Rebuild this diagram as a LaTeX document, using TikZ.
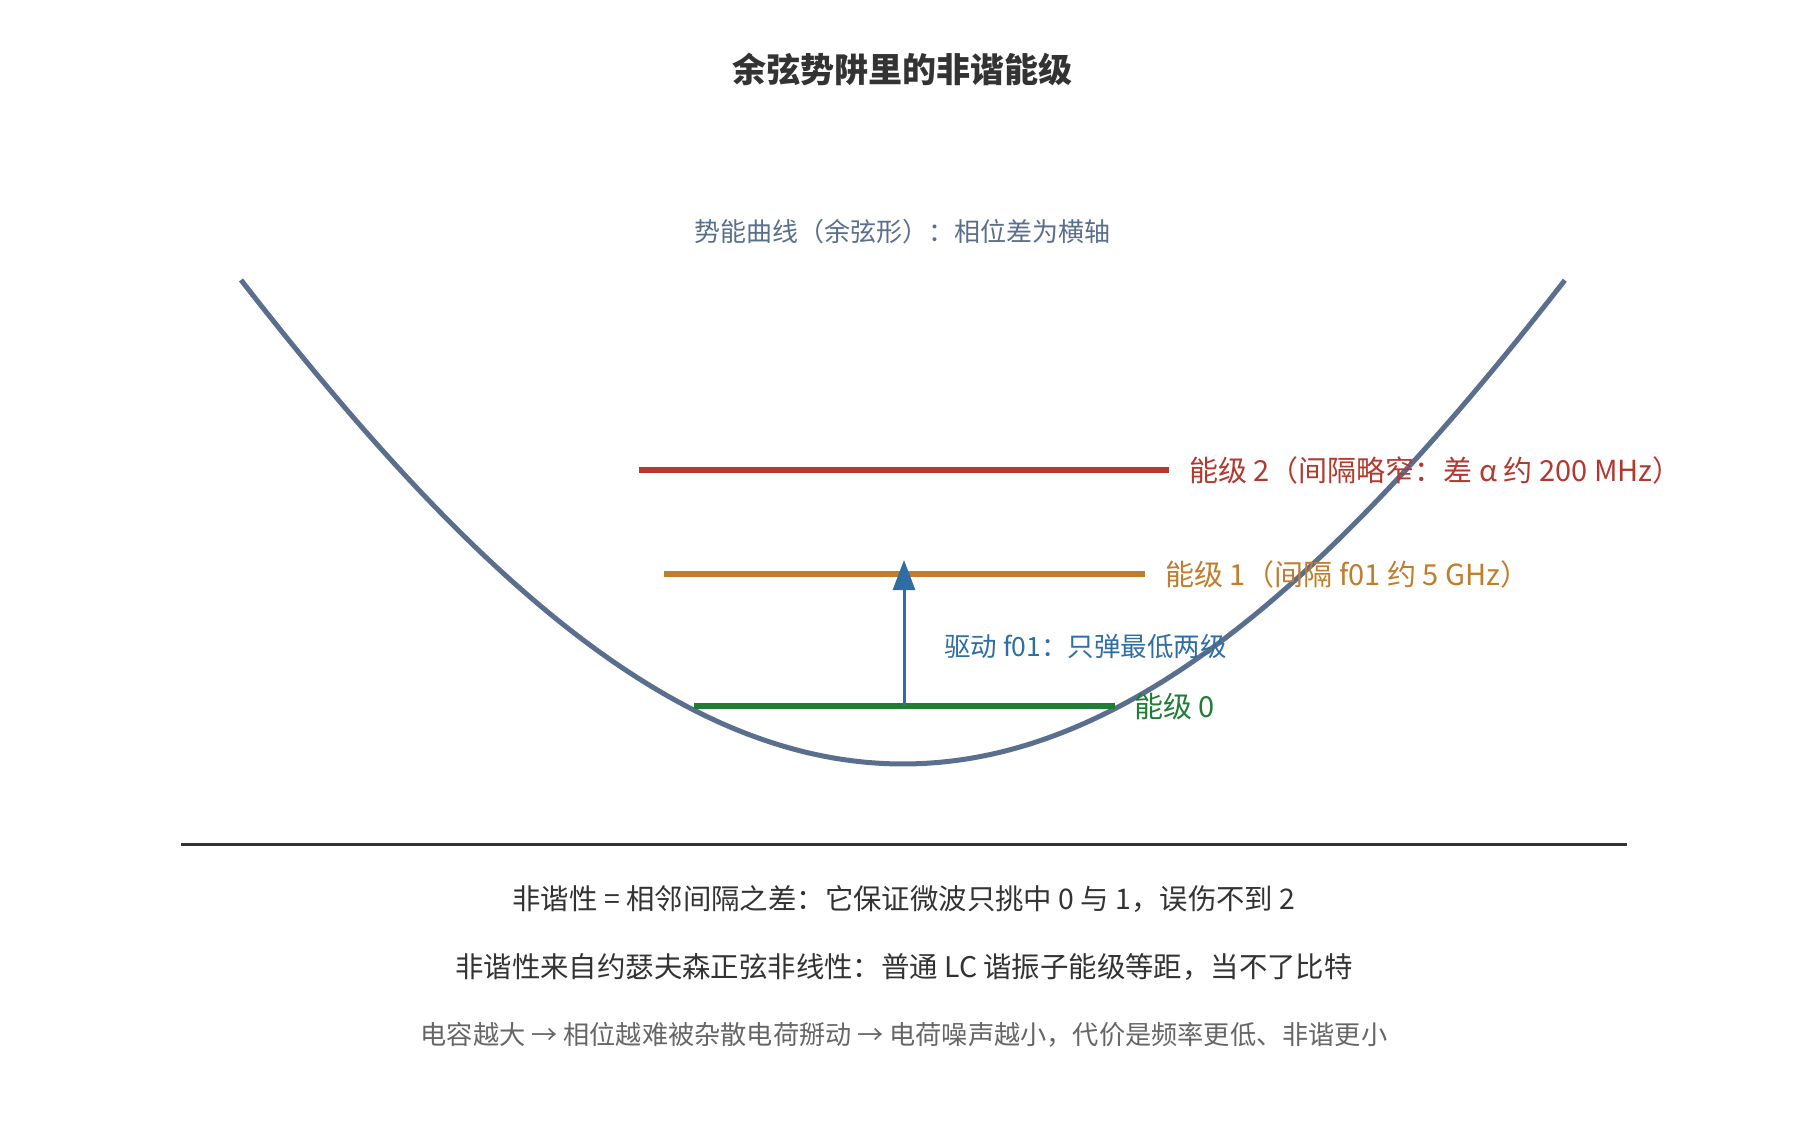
\documentclass[tikz,border=0pt]{standalone}
\usepackage{fontspec}
\setmainfont{Noto Sans CJK SC}
\usepackage{xcolor}
\usepackage{tikz}
\usetikzlibrary{arrows.meta}

\definecolor{curveC}{HTML}{5A6E8E}
\definecolor{redC}{HTML}{B3392F}
\definecolor{orangeC}{HTML}{C17C2C}
\definecolor{greenC}{HTML}{217C36}
\definecolor{blueC}{HTML}{2F6EA5}
\definecolor{darkC}{HTML}{333333}
\definecolor{grayC}{HTML}{666666}

\begin{document}
\begin{tikzpicture}[x=1pt,y=-1pt,
        level/.style = {line width=6pt},
        lbl/.style = {anchor=west, inner sep=0pt, font=\fontsize{29}{32}\selectfont},
        note/.style = {inner sep=0pt, font=\fontsize{28.4}{32}\selectfont, text=darkC}]
        \useasboundingbox[fill=white] (0,0) rectangle (1800,1120);
        % title
        \node[inner sep=0pt, text=darkC, font=\fontsize{34}{38}\selectfont\bfseries] (title) at (902,69) {余弦势阱里的非谐能级};
        \node[inner sep=0pt, text=curveC, font=\fontsize{26}{30}\selectfont] (subtitle) at (902,232) {势能曲线（余弦形）：相位差为横轴};
        % potential
        \draw[curveC, line width=5pt] plot[domain=-1.2:1.2, samples=90, smooth] ({903+551.67*\x}, {764-759.0*(1-cos(\x r))});
        % levels
        \begin{scope}
            \coordinate (Ltwo) at (639,470);
            \coordinate (Rtwo) at (1169,470);
            \coordinate (Lone) at (664,574);
            \coordinate (Rone) at (1145,574);
            \coordinate (Lzero) at (694,706);
            \coordinate (Rzero) at (1115,706);
            \coordinate (drvA) at (904,706);
            \coordinate (drvB) at (904,560);
        \end{scope}
        \begin{scope}
            \path[level, redC] (Ltwo) edge (Rtwo);
            \path[level, orangeC] (Lone) edge (Rone);
            \path[level, greenC] (Lzero) edge (Rzero);
            \path[-{Triangle[width=22pt,length=30pt]}, line width=3pt, blueC] (drvA) edge (drvB);
        \end{scope}
        \begin{scope}[every node/.style = {lbl}]
            \node[text=redC] (lvlTwo) at (1189,470) {能级 2（间隔略窄：差 α 约 200 MHz）};
            \node[text=orangeC] (lvlOne) at (1165,574) {能级 1（间隔 f01 约 5 GHz）};
            \node[text=greenC] (lvlZero) at (1134,706) {能级 0};
            \node[text=blueC, font=\fontsize{26.5}{30}\selectfont] (drive) at (944,646) {驱动 f01：只弹最低两级};
        \end{scope}
        % separator and notes
        \draw[darkC, line width=3pt] (181,844) -- (1627,844);
        \node[note] (noteA) at (904,899) {非谐性 = 相邻间隔之差：它保证微波只挑中 0 与 1，误伤不到 2};
        \node[note] (noteB) at (904,967) {非谐性来自约瑟夫森正弦非线性：普通 LC 谐振子能级等距，当不了比特};
        \node[note, text=grayC, font=\fontsize{26.2}{30}\selectfont] (noteC) at (904,1035) {电容越大 → 相位越难被杂散电荷掰动 → 电荷噪声越小，代价是频率更低、非谐更小};
    \end{tikzpicture}
\end{document}
